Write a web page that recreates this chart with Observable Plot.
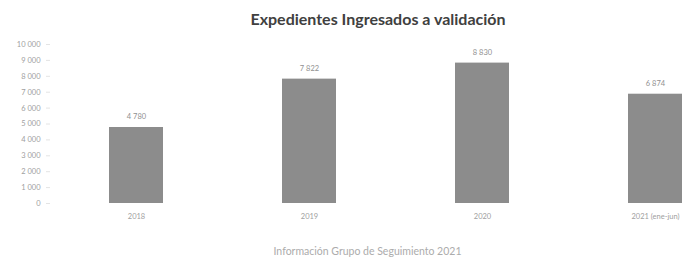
<!DOCTYPE html>
<html>
<head>
<meta charset="utf-8">
<script src="https://cdn.jsdelivr.net/npm/d3@7"></script>
<script src="https://cdn.jsdelivr.net/npm/@observablehq/plot@0.6"></script>
<style>
  html, body { margin: 0; padding: 0; background: #fff; width: 683px; height: 258px; overflow: hidden; }
  #title { font-family: Lato, "Open Sans", sans-serif; font-weight: bold; font-size: 16px; color: #404040; text-align: center; height: 30px; line-height: 20px; padding-top: 9px; box-sizing: border-box; padding-left: 73px; white-space: nowrap; }
  #caption { font-family: Lato, "Open Sans", sans-serif; font-size: 10.5px; color: #acacac; text-align: center; margin-top: 21px; line-height: 14px; padding-left: 52px; white-space: nowrap; }
</style>
</head>
<body>
<div id="title">Expedientes Ingresados a validación</div>
<div id="chart"></div>
<div id="caption">Información Grupo de Seguimiento 2021</div>
<script>
const years = ["2018", "2019", "2020", "2021 (ene-jun)"];
const values = [4780, 7822, 8830, 6874];
const labels = ["4 780", "7 822", "8 830", "6 874"];
const yTicks = [0, 1000, 2000, 3000, 4000, 5000, 6000, 7000, 8000, 9000, 10000];

const data = years.map((y, i) => ({year: y, value: values[i], label: labels[i]}));
const fmt = d => d3.format(",")(d).replace(/,/g, " ");

const chart = Plot.plot({
  width: 683,
  height: 193,
  marginTop: 14,
  marginBottom: 20,
  marginLeft: 50,
  marginRight: 1,
  style: {fontFamily: "Lato, 'Open Sans', sans-serif", fontSize: "7.5px", color: "#a0a0a0", background: "#fff", overflow: "hidden"},
  x: {domain: years, range: [108, 682], paddingInner: 0.69, paddingOuter: 0, label: null},
  y: {domain: [0, 10000], label: null},
  marks: [
    Plot.axisY({ticks: yTicks, tickFormat: fmt, tickSize: 4, tickPadding: 6, stroke: "#e4e4e4", fill: "#a0a0a0", fontSize: 7.5}),
    Plot.axisX({tickSize: 0, tickPadding: 10, fill: "#a0a0a0", fontSize: 7.5}),
    Plot.barY(data, {x: "year", y: "value", fill: "#8c8c8c"}),
    Plot.text(data, {x: "year", y: "value", text: "label", dy: -11, fill: "#909090", fontSize: 7.5})
  ]
});
document.getElementById("chart").appendChild(chart);
</script>
</body>
</html>
